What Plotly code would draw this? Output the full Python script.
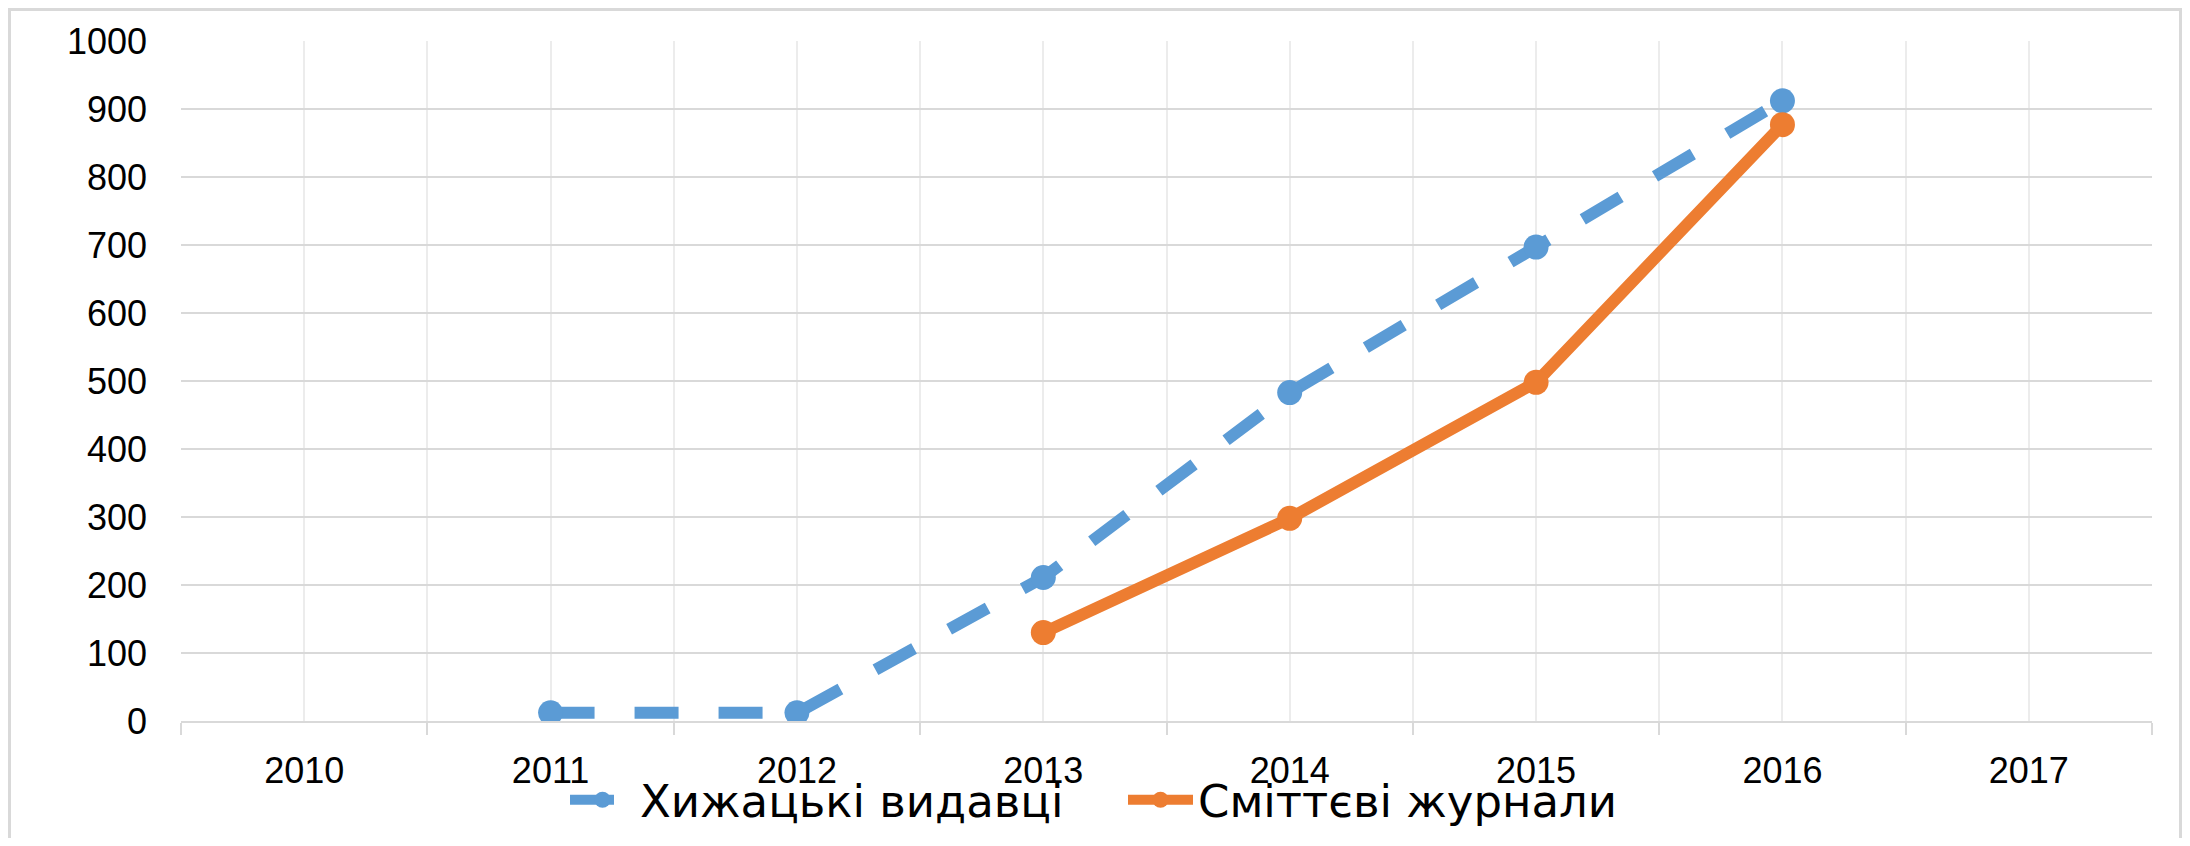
import plotly.graph_objects as go

years = [2010, 2011, 2012, 2013, 2014, 2015, 2016, 2017]
year_labels = ["2010", "2011", "2012", "2013", "2014", "2015", "2016", "2017"]
predatory = [None, 12, 12, 211, 483, 697, 912, None]
junk = [None, None, None, 130, 298, 498, 877, None]
name_predatory = "Хижацькі видавці"
name_junk = "Сміттєві журнали"
y_ticks = [0, 100, 200, 300, 400, 500, 600, 700, 800, 900, 1000]

# page has an 8px body margin; figure coordinates are page coordinates - 8
OFF = 8
W, H = 2190 - 2 * OFF, 846 - 2 * OFF
L, R, T, B = 181 - OFF, 2152 - OFF, 41 - OFF, 721 - OFF

fig = go.Figure()
fig.add_trace(go.Scatter(
    x=years, y=predatory, name=name_predatory, mode="lines+markers",
    line=dict(color="#5B9BD5", width=12, dash="44px,40px"),
    marker=dict(color="#5B9BD5", size=25),
))
fig.add_trace(go.Scatter(
    x=years, y=junk, name=name_junk, mode="lines+markers",
    line=dict(color="#ED7D31", width=12),
    marker=dict(color="#ED7D31", size=25),
))

pw = R - L
ph = B - T
# outer chart-area border
fig.add_shape(type="rect", xref="paper", yref="paper",
              x0=(1.5 - L) / pw, x1=(W - 1.5 - L) / pw,
              y0=(B - (H + 40)) / ph, y1=(B - 1.5) / ph,
              line=dict(color="#d9d9d9", width=3), fillcolor="rgba(0,0,0,0)", layer="below")

fig.update_layout(
    width=W, height=H,
    margin=dict(l=L, r=W - R, t=T, b=H - B, pad=0, autoexpand=False),
    paper_bgcolor="white", plot_bgcolor="white",
    showlegend=True,
    legend=dict(orientation="h", x=(562 - 5 - L) / pw, xanchor="left",
                y=(B - 792) / ph, yanchor="middle",
                font=dict(family="DejaVu Sans", size=45, color="#000000"),
                bgcolor="rgba(0,0,0,0)", itemwidth=65, entrywidth=478,
                tracegroupgap=0),
    font=dict(family="Liberation Sans", color="#000000"),
)
fig.update_xaxes(
    range=[years[0] - 0.5, years[-1] + 0.5],
    tickmode="array", tickvals=years, ticktext=year_labels, ticks="",
    tickfont=dict(family="Liberation Sans", size=36, color="#000000"),
    ticklabelstandoff=17,
    showgrid=True, gridcolor="#ececec", gridwidth=2,
    showline=True, linecolor="#d9d9d9", linewidth=2,
    zeroline=False, automargin=False,
    minor=dict(tickmode="linear", tick0=years[0] - 0.5, dtick=1, ticks="outside",
               ticklen=12, tickwidth=2, tickcolor="#d9d9d9",
               showgrid=True, gridcolor="#ececec", gridwidth=2),
)
fig.update_yaxes(
    range=[0, 1000], tickmode="array", tickvals=y_ticks,
    tickfont=dict(family="Liberation Sans", size=36, color="#000000"),
    ticklabelstandoff=33,
    showgrid=True, gridcolor="#d9d9d9", gridwidth=2,
    zeroline=False, showline=False, ticks="", automargin=False,
)

fig.write_html("out.html")
